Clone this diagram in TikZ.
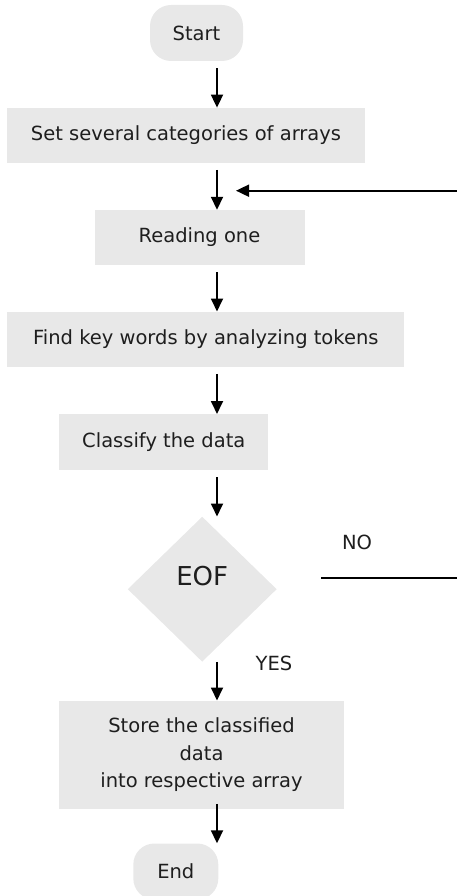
\documentclass[tikz,border=0pt]{standalone}
\usepackage{fontspec}
\setmainfont{DejaVu Sans}
\usetikzlibrary{arrows.meta,shapes.geometric}
\definecolor{boxgray}{RGB}{232,232,232}
\definecolor{inkgray}{RGB}{30,30,30}
\tikzset{
  stepbox/.style={fill=boxgray, inner sep=0pt, text=inkgray, align=center,
    font=\fontsize{19.5}{27.5}\selectfont},
  termbox/.style={stepbox, rounded corners=21pt, minimum width=88pt, minimum height=56pt},
  decision/.style={diamond, fill=boxgray, inner sep=0pt, minimum width=149pt, minimum height=145pt},
  tag/.style={text=inkgray, inner sep=0pt, font=\fontsize{19.5}{27.5}\selectfont},
  flow/.style={line width=1.8pt, -{Triangle[width=12pt,length=13pt]}},
}
\begin{document}
\begin{tikzpicture}[x=1pt,y=-1pt]
\useasboundingbox (0,0) rectangle (457,896);
\node[termbox, minimum width=93pt] (start) at (196.5,33) {Start};
\node[stepbox, minimum width=358pt, minimum height=55pt] (set) at (186,135.3) {Set several categories of arrays};
\node[stepbox, minimum width=210pt, minimum height=55pt] (read) at (199.5,237.5) {Reading one};
\node[stepbox, minimum width=397pt, minimum height=55pt] (find) at (205.8,339.2) {Find key words by analyzing tokens};
\node[stepbox, minimum width=209pt, minimum height=56pt] (class) at (163.8,442.2) {Classify the data};
\node[decision, label={[tag, font=\fontsize{26}{30}\selectfont, yshift=13pt]center:EOF}] (eof) at (202.2,589.2) {};
\node[stepbox, minimum width=285pt, minimum height=108pt] (store) at (201.5,754.7) {Store the classified\\data\\into respective array};
\node[termbox, minimum width=85pt] (end) at (175.8,871.5) {End};
\node[tag] (no) at (357,542) {NO};
\node[tag] (yes) at (274,663) {YES};
\coordinate (ax) at (217,0);
\coordinate (nofrom) at (321,578.3);
\coordinate (noto) at (457,578.3);
\coordinate (backfrom) at (457,190.7);
\coordinate (backto) at (236,190.7);
\draw[flow, shorten <=7pt] (start.south -| ax) -- (set.north -| ax);
\draw[flow, shorten <=7pt] (set.south -| ax) -- (read.north -| ax);
\draw[flow, shorten <=7pt] (read.south -| ax) -- (find.north -| ax);
\draw[flow, shorten <=7pt] (find.south -| ax) -- (class.north -| ax);
\draw[flow, shorten <=7pt] (class.south -| ax) -- (eof.north -| ax);
\draw[flow] (eof.south -| ax) -- (store.north -| ax);
\draw[flow, shorten <=-5pt] (store.south -| ax) -- (end.north -| ax);
\draw[line width=1.8pt] (nofrom) -- (noto);
\draw[flow] (backfrom) -- (backto);
\end{tikzpicture}
\end{document}
